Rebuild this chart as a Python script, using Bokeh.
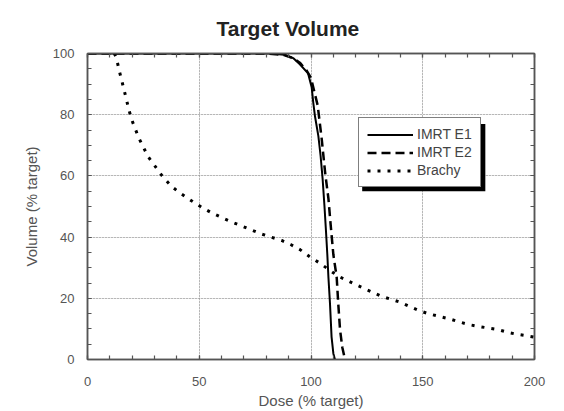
from bokeh.plotting import figure
from bokeh.models import (LinearAxis, Title, Legend, LegendItem, FixedTicker,
                          BoxAnnotation, Range1d, Grid)
from bokeh.embed import file_html
from bokeh.resources import INLINE

# ---- data ----
e1_dose = [0, 82, 88, 92, 95, 98.7, 100.3, 101, 101.8, 103.3, 104.3, 105.2,
           106, 106.7, 107.3, 107.8, 108.5, 109.2, 110, 110.7]
e1_vol = [100, 100, 99.6, 98.5, 96.5, 93.5, 89, 84, 79.4, 73, 66.5, 59,
          50.4, 42, 34.3, 26.8, 18.2, 7.4, 2, 0]

e2_dose = [0, 80, 88, 92, 95, 98, 100, 101.5, 103, 104.8, 106.3, 107.8,
           108.8, 110, 111.5, 112.2, 113, 114, 115.2]
e2_vol = [100, 100, 99.5, 98.5, 97, 94.5, 92, 87.5, 83, 72, 61.2, 52.6,
          44, 34.3, 26.8, 18.2, 9.7, 4, 0]

br_dose = [12, 13, 14, 16.2, 18.4, 19.6, 22.9, 27.1, 33.3, 37.5, 42.2, 46.7,
           51.2, 55.4, 59.7, 64.3, 68.8, 72.8, 77.5, 82.1, 86.9, 91.1, 95.1,
           99.6, 103.7, 112, 120, 131, 140, 144.2, 148.3, 152.8, 157.3, 161.8,
           166.2, 170.7, 175, 179.2, 183.6, 188.4, 192.5, 197, 200]
br_vol = [100, 98.4, 95, 88.6, 82, 78.7, 72.5, 66.3, 60.1, 56.6, 54, 51.8,
          49.7, 48, 46.5, 45, 43.7, 42.5, 41.1, 40, 38.9, 37.5, 35.9,
          33.5, 31.6, 27.3, 24.5, 20.8, 18.7, 17.3, 16, 14.9, 14.1, 13.3,
          12.3, 11.4, 10.8, 10.3, 9.8, 8.8, 8.2, 7.7, 7.3]

x_major = [0, 50, 100, 150, 200]
x_minor = list(range(0, 201, 10))
y_major = [0, 20, 40, 60, 80, 100]
y_minor = list(range(0, 101, 5))

series_labels = ["IMRT E1", "IMRT E2", "Brachy"]

FONT = "Liberation Sans"
AX_COL = "#555555"

p = figure(width=564, height=411, output_backend="svg", toolbar_location=None,
           x_range=Range1d(0, 200), y_range=Range1d(0, 100),
           x_axis_location=None, y_axis_location=None,
           min_border_left=87, min_border_right=30, min_border_top=52,
           min_border_bottom=49)
p.background_fill_color = "white"
p.border_fill_color = "white"
p.outline_line_color = AX_COL
p.outline_line_width = 1.5


def style_axis(ax, show_labels):
    ax.axis_line_color = AX_COL
    ax.axis_line_width = 1.5
    ax.major_tick_line_color = AX_COL
    ax.minor_tick_line_color = AX_COL
    ax.major_tick_in = 4
    ax.major_tick_out = 0
    ax.minor_tick_in = 4
    ax.minor_tick_out = 0
    ax.major_tick_line_width = 1.2
    ax.minor_tick_line_width = 1.2
    if show_labels:
        ax.major_label_text_font = FONT
        ax.major_label_text_font_size = "13px"
        ax.major_label_text_color = "#555555"
    else:
        ax.major_label_text_font_size = "1px"
        ax.major_label_text_color = None
        ax.major_label_standoff = 0


bottom = LinearAxis(ticker=FixedTicker(ticks=x_major, minor_ticks=x_minor),
                    axis_label="Dose (% target)")
left = LinearAxis(ticker=FixedTicker(ticks=y_major, minor_ticks=y_minor),
                  axis_label="Volume (% target)")
top = LinearAxis(ticker=FixedTicker(ticks=x_major, minor_ticks=x_minor))
right = LinearAxis(ticker=FixedTicker(ticks=y_major, minor_ticks=y_minor))

for ax, lab in [(bottom, True), (left, True), (top, False), (right, False)]:
    style_axis(ax, lab)

bottom.major_label_standoff = 17
left.major_label_standoff = 13
for ax in (bottom, left):
    ax.axis_label_text_font = FONT
    ax.axis_label_text_font_size = "15px"
    ax.axis_label_text_font_style = "normal"
    ax.axis_label_text_color = "#555555"
bottom.axis_label_standoff = 3
left.axis_label_standoff = 10

p.add_layout(bottom, "below")
p.add_layout(left, "left")
p.add_layout(top, "above")
p.add_layout(right, "right")

title = Title(text="Target Volume", align="left", offset=129,
              text_font=FONT, text_font_size="21px", text_font_style="bold",
              text_color="#222222", standoff=28)
p.add_layout(title, "above")

# grids
gx = Grid(dimension=0, ticker=FixedTicker(ticks=x_major[1:-1]))
gy = Grid(dimension=1, ticker=FixedTicker(ticks=y_major[1:-1]))
for g in (gx, gy):
    g.grid_line_color = "#888888"
    g.grid_line_dash = "1 2"
    g.grid_line_width = 1
    p.add_layout(g)

r1 = p.line(e1_dose, e1_vol, line_color="black", line_width=2)
r2 = p.line(e2_dose, e2_vol, line_color="black", line_width=2.5,
            line_dash="9 5")
r3 = p.line(br_dose, br_vol, line_color="black", line_width=3,
            line_dash="3 7")

# legend drop shadow (3px offset)
shadow = BoxAnnotation(left=122.9, right=178.0, top=77.0, bottom=55.0,
                       fill_color="black", fill_alpha=1.0, line_color=None)
p.add_layout(shadow)

legend = Legend(items=[LegendItem(label=series_labels[0], renderers=[r1]),
                       LegendItem(label=series_labels[1], renderers=[r2]),
                       LegendItem(label=series_labels[2], renderers=[r3])],
                location=(271, 172), orientation="vertical")
legend.border_line_color = "black"
legend.border_line_width = 1.5
legend.background_fill_color = "white"
legend.background_fill_alpha = 1.0
legend.label_text_font = FONT
legend.label_text_font_size = "14px"
legend.label_text_color = "#444444"
legend.glyph_width = 46
legend.glyph_height = 15
legend.label_height = 15
legend.label_standoff = 4
legend.padding = 8
legend.spacing = 2
legend.margin = 0
p.add_layout(legend)

open("out.html", "w").write(file_html(p, INLINE))
